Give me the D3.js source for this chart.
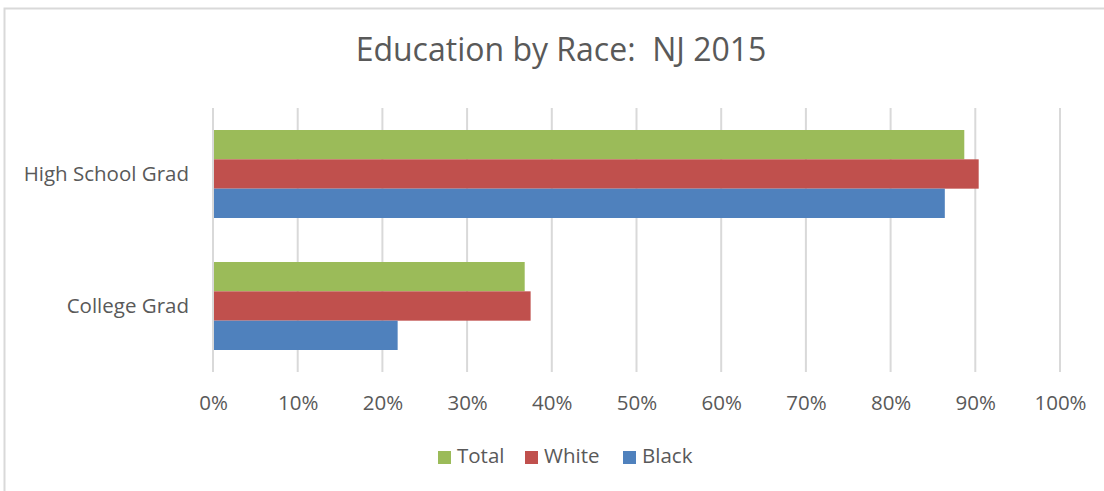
<!DOCTYPE html>
<html>
<head>
<meta charset="utf-8">
<title>Education by Race: NJ 2015</title>
<script src="https://cdn.jsdelivr.net/npm/d3@7"></script>
<style>
  body { margin: 0; background: #fff; }
  text { font-family: "Open Sans", "Liberation Sans", sans-serif; fill: #595959; }
</style>
</head>
<body>
<div id="chart"></div>
<script>
// data
const categories = ["High School Grad", "College Grad"];
const seriesNames = ["Total", "White", "Black"];
const totalValues = [0.887, 0.368];
const whiteValues = [0.904, 0.375];
const blackValues = [0.864, 0.218];
const tickValues = [0, 0.1, 0.2, 0.3, 0.4, 0.5, 0.6, 0.7, 0.8, 0.9, 1.0];
const colors = ["#9BBB59", "#C0504D", "#4F81BD"];

const width = 1104, height = 491;
const margin = { left: 213, right: 44, top: 108, bottom: 119 };
const labelSize = "20.5px";

const svg = d3.select("#chart").append("svg")
  .attr("width", width)
  .attr("height", height);

// outer chart border (only top/left visible in the frame)
svg.append("rect")
  .attr("x", 4.5).attr("y", 8.5)
  .attr("width", width + 10).attr("height", height + 10)
  .attr("fill", "none")
  .attr("stroke", "#D9D9D9")
  .attr("stroke-width", 2);

svg.append("text")
  .attr("x", 561).attr("y", 61)
  .attr("text-anchor", "middle")
  .style("font-size", "32px")
  .style("white-space", "pre")
  .text("Education by Race:  NJ 2015");

const x = d3.scaleLinear()
  .domain([0, 1])
  .range([margin.left, width - margin.right]);

const y = d3.scaleBand()
  .domain(categories)
  .range([margin.top, height - margin.bottom])
  .paddingInner(1 / 3)
  .paddingOuter(1 / 6);

const ySub = d3.scaleBand()
  .domain(seriesNames)
  .range([0, y.bandwidth()]);

// gridlines
svg.append("g")
  .selectAll("line")
  .data(tickValues)
  .join("line")
  .attr("x1", d => x(d)).attr("x2", d => x(d))
  .attr("y1", margin.top).attr("y2", height - margin.bottom)
  .attr("stroke", "#D9D9D9")
  .attr("stroke-width", 2);

const rows = categories.map((c, i) => ({
  category: c,
  values: [totalValues[i], whiteValues[i], blackValues[i]]
}));

const group = svg.append("g")
  .selectAll("g")
  .data(rows)
  .join("g")
  .attr("transform", d => "translate(0," + y(d.category) + ")");

group.selectAll("rect")
  .data(d => d.values.map((v, j) => ({ name: seriesNames[j], value: v, color: colors[j] })))
  .join("rect")
  .attr("x", x(0) + 1)
  .attr("y", d => ySub(d.name))
  .attr("width", d => x(d.value) - x(0) - 1)
  .attr("height", ySub.bandwidth())
  .attr("fill", d => d.color);

// x axis labels
const xAxis = d3.axisBottom(x)
  .tickValues(tickValues)
  .tickFormat(d3.format(".0%"))
  .tickSize(0)
  .tickPadding(0);

const gx = svg.append("g")
  .attr("transform", "translate(0," + 395 + ")")
  .call(xAxis);
gx.select(".domain").remove();
gx.selectAll("text")
  .attr("fill", "#595959")
  .style("font-size", labelSize);

// y axis labels
const yAxis = d3.axisLeft(y).tickSize(0).tickPadding(24);
const gy = svg.append("g")
  .attr("transform", "translate(" + margin.left + ",0)")
  .call(yAxis);
gy.select(".domain").remove();
gy.selectAll("text")
  .attr("fill", "#595959")
  .style("font-size", labelSize);

// legend
const legendX = [438, 525, 623];
const legend = svg.append("g")
  .selectAll("g")
  .data(seriesNames)
  .join("g")
  .attr("transform", (d, i) => "translate(" + legendX[i] + ",451)");
legend.append("rect")
  .attr("width", 13).attr("height", 13)
  .attr("fill", (d, i) => colors[i]);
legend.append("text")
  .attr("x", 19).attr("y", 12)
  .style("font-size", labelSize)
  .text(d => d);
</script>
</body>
</html>
